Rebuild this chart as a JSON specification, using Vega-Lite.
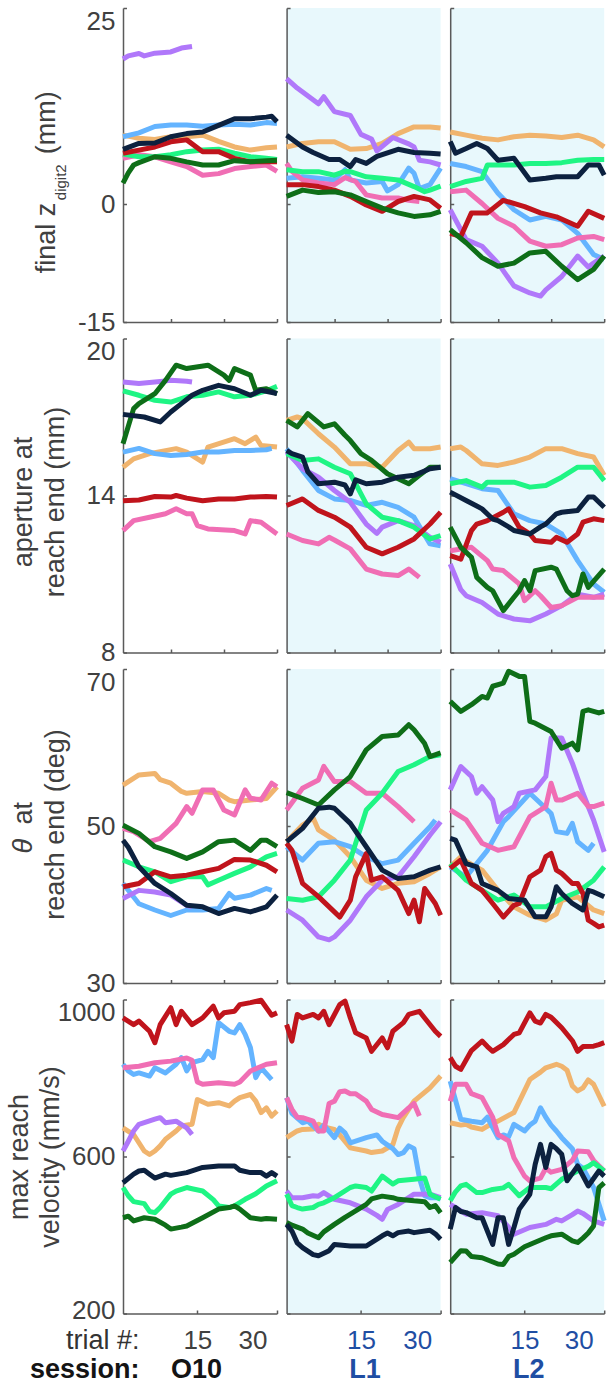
{
"$schema": "https://vega.github.io/schema/vega-lite/v6.json",
"autosize": {"type": "pad"},
"padding": {"left": 5, "top": 7, "right": 0, "bottom": 0},
"background": "white",
"config": {
 "view": {"stroke": null},
 "axis": {"grid": false, "domainColor": "#5a5a5a", "domainWidth": 1.5, "tickColor": "#5a5a5a", "tickWidth": 1.5, "tickSize": -3.5, "labelFont": "Liberation Sans", "labelFontSize": 26, "labelColor": "#404040", "titleFont": "Liberation Sans", "titleFontSize": 27, "titleFontWeight": "normal", "titleColor": "#404040"},
 "line": {"strokeWidth": 5, "strokeJoin": "round"}
},
"datasets": {
"z_O10": [
{"c":"o","t":1,"y":8.8},{"c":"o","t":4,"y":8.4},{"c":"o","t":7,"y":8.25},{"c":"o","t":10,"y":8.6},{"c":"o","t":13,"y":8.6},{"c":"o","t":16,"y":8.8},{"c":"o","t":19,"y":8.0},{"c":"o","t":22,"y":7.3},{"c":"o","t":25,"y":6.9},{"c":"o","t":28,"y":7.2},{"c":"o","t":30,"y":7.3},
{"c":"b","t":1,"y":8.6},{"c":"b","t":4,"y":9.1},{"c":"b","t":7,"y":9.9},{"c":"b","t":10,"y":10.1},{"c":"b","t":13,"y":10.1},{"c":"b","t":16,"y":9.95},{"c":"b","t":19,"y":10.1},{"c":"b","t":22,"y":10.2},{"c":"b","t":25,"y":10.1},{"c":"b","t":28,"y":10.4},{"c":"b","t":30,"y":10.3},
{"c":"u","t":1,"y":18.5},{"c":"u","t":2,"y":18.9},{"c":"u","t":4,"y":19.2},{"c":"u","t":5,"y":18.9},{"c":"u","t":7,"y":19.25},{"c":"u","t":10,"y":19.4},{"c":"u","t":12,"y":19.9},{"c":"u","t":13,"y":20.0},{"c":"u","t":14,"y":20.1},
{"c":"k","t":1,"y":5.85},{"c":"k","t":4,"y":6.3},{"c":"k","t":7,"y":6.05},{"c":"k","t":10,"y":5.4},{"c":"k","t":13,"y":4.8},{"c":"k","t":16,"y":3.7},{"c":"k","t":19,"y":3.9},{"c":"k","t":22,"y":4.55},{"c":"k","t":25,"y":4.8},{"c":"k","t":28,"y":5.0},{"c":"k","t":30,"y":4.2},
{"c":"g","t":1,"y":6.4},{"c":"g","t":4,"y":6.05},{"c":"g","t":7,"y":6.05},{"c":"g","t":10,"y":6.3},{"c":"g","t":13,"y":6.7},{"c":"g","t":16,"y":6.9},{"c":"g","t":19,"y":7.0},{"c":"g","t":22,"y":6.5},{"c":"g","t":25,"y":6.05},{"c":"g","t":28,"y":5.85},{"c":"g","t":30,"y":5.7},
{"c":"r","t":1,"y":6.5},{"c":"r","t":4,"y":6.9},{"c":"r","t":7,"y":7.3},{"c":"r","t":10,"y":7.95},{"c":"r","t":13,"y":8.2},{"c":"r","t":16,"y":6.7},{"c":"r","t":19,"y":6.7},{"c":"r","t":22,"y":5.85},{"c":"r","t":25,"y":5.4},{"c":"r","t":28,"y":5.4},{"c":"r","t":30,"y":5.4},
{"c":"d","t":1,"y":2.7},{"c":"d","t":2,"y":4.0},{"c":"d","t":3,"y":5.0},{"c":"d","t":4,"y":5.3},{"c":"d","t":7,"y":6.05},{"c":"d","t":10,"y":5.85},{"c":"d","t":13,"y":5.4},{"c":"d","t":16,"y":5.0},{"c":"d","t":19,"y":5.0},{"c":"d","t":22,"y":5.55},{"c":"d","t":25,"y":5.4},{"c":"d","t":28,"y":5.55},{"c":"d","t":30,"y":5.6},
{"c":"n","t":1,"y":7.0},{"c":"n","t":4,"y":7.75},{"c":"n","t":7,"y":7.8},{"c":"n","t":10,"y":8.6},{"c":"n","t":13,"y":9.0},{"c":"n","t":16,"y":9.2},{"c":"n","t":19,"y":10.05},{"c":"n","t":22,"y":10.9},{"c":"n","t":25,"y":10.9},{"c":"n","t":28,"y":11.1},{"c":"n","t":29,"y":11.2},{"c":"n","t":30,"y":10.5}
],
"z_L1": [
{"c":"o","t":1,"y":7.3},{"c":"o","t":4,"y":7.75},{"c":"o","t":7,"y":7.95},{"c":"o","t":10,"y":7.95},{"c":"o","t":13,"y":7.0},{"c":"o","t":16,"y":7.1},{"c":"o","t":19,"y":7.75},{"c":"o","t":22,"y":9.0},{"c":"o","t":25,"y":9.85},{"c":"o","t":28,"y":9.85},{"c":"o","t":30,"y":9.7},
{"c":"b","t":1,"y":3.3},{"c":"b","t":4,"y":3.5},{"c":"b","t":7,"y":3.3},{"c":"b","t":10,"y":3.1},{"c":"b","t":12,"y":4.4},{"c":"b","t":13,"y":3.1},{"c":"b","t":16,"y":2.7},{"c":"b","t":19,"y":2.9},{"c":"b","t":20,"y":1.7},{"c":"b","t":22,"y":2.5},{"c":"b","t":24,"y":4.6},{"c":"b","t":25,"y":3.95},{"c":"b","t":26,"y":2.0},{"c":"b","t":28,"y":2.5},{"c":"b","t":30,"y":4.6},
{"c":"u","t":1,"y":16.0},{"c":"u","t":3,"y":14.8},{"c":"u","t":7,"y":12.8},{"c":"u","t":8,"y":13.7},{"c":"u","t":10,"y":11.8},{"c":"u","t":13,"y":11.3},{"c":"u","t":15,"y":8.9},{"c":"u","t":17,"y":8.3},{"c":"u","t":18,"y":6.8},{"c":"u","t":21,"y":8.5},{"c":"u","t":24,"y":7.7},{"c":"u","t":25,"y":7.3},{"c":"u","t":26,"y":5.6},{"c":"u","t":28,"y":5.4},{"c":"u","t":30,"y":5.0},
{"c":"k","t":1,"y":5.2},{"c":"k","t":2,"y":4.2},{"c":"k","t":4,"y":3.1},{"c":"k","t":7,"y":2.7},{"c":"k","t":10,"y":2.5},{"c":"k","t":12,"y":3.4},{"c":"k","t":14,"y":2.9},{"c":"k","t":16,"y":1.2},{"c":"k","t":19,"y":0.8},{"c":"k","t":22,"y":0.8},{"c":"k","t":24,"y":0.5},{"c":"k","t":26,"y":0.35},
{"c":"g","t":1,"y":4.4},{"c":"g","t":4,"y":4.15},{"c":"g","t":7,"y":4.15},{"c":"g","t":10,"y":3.7},{"c":"g","t":12,"y":4.2},{"c":"g","t":13,"y":4.15},{"c":"g","t":16,"y":3.5},{"c":"g","t":19,"y":3.3},{"c":"g","t":22,"y":3.1},{"c":"g","t":25,"y":2.25},{"c":"g","t":27,"y":1.6},{"c":"g","t":28,"y":1.8},{"c":"g","t":30,"y":2.3},
{"c":"r","t":1,"y":2.5},{"c":"r","t":4,"y":2.5},{"c":"r","t":7,"y":2.25},{"c":"r","t":10,"y":1.8},{"c":"r","t":13,"y":1.0},{"c":"r","t":16,"y":-0.1},{"c":"r","t":19,"y":-0.9},{"c":"r","t":22,"y":0.35},{"c":"r","t":25,"y":1.0},{"c":"r","t":28,"y":0.55},{"c":"r","t":30,"y":-0.5},
{"c":"d","t":1,"y":1.0},{"c":"d","t":4,"y":1.8},{"c":"d","t":7,"y":1.5},{"c":"d","t":10,"y":1.6},{"c":"d","t":13,"y":1.2},{"c":"d","t":16,"y":0.35},{"c":"d","t":19,"y":-0.5},{"c":"d","t":22,"y":-1.1},{"c":"d","t":25,"y":-1.55},{"c":"d","t":28,"y":-1.35},{"c":"d","t":30,"y":-0.9},
{"c":"n","t":1,"y":8.8},{"c":"n","t":4,"y":7.3},{"c":"n","t":6,"y":6.6},{"c":"n","t":9,"y":5.7},{"c":"n","t":11,"y":5.7},{"c":"n","t":13,"y":4.8},{"c":"n","t":14,"y":5.7},{"c":"n","t":16,"y":5.2},{"c":"n","t":18,"y":6.1},{"c":"n","t":22,"y":7.0},{"c":"n","t":25,"y":6.6},{"c":"n","t":28,"y":6.5},{"c":"n","t":30,"y":6.4}
],
"z_L2": [
{"c":"o","t":1,"y":9.2},{"c":"o","t":4,"y":8.8},{"c":"o","t":7,"y":8.4},{"c":"o","t":10,"y":8.2},{"c":"o","t":13,"y":8.6},{"c":"o","t":16,"y":8.8},{"c":"o","t":19,"y":8.7},{"c":"o","t":22,"y":8.5},{"c":"o","t":25,"y":8.8},{"c":"o","t":28,"y":8.2},{"c":"o","t":30,"y":7.3},
{"c":"b","t":1,"y":5.2},{"c":"b","t":4,"y":4.8},{"c":"b","t":7,"y":4.15},{"c":"b","t":10,"y":1.4},{"c":"b","t":13,"y":-0.7},{"c":"b","t":16,"y":-2.0},{"c":"b","t":19,"y":-1.55},{"c":"b","t":22,"y":-2.0},{"c":"b","t":25,"y":-3.7},{"c":"b","t":28,"y":-6.4},{"c":"b","t":30,"y":-7.05},
{"c":"u","t":1,"y":-0.7},{"c":"u","t":4,"y":-4.5},{"c":"u","t":7,"y":-5.35},{"c":"u","t":10,"y":-7.5},{"c":"u","t":13,"y":-10.4},{"c":"u","t":16,"y":-11.3},{"c":"u","t":18,"y":-11.7},{"c":"u","t":19,"y":-10.9},{"c":"u","t":22,"y":-9.2},{"c":"u","t":25,"y":-6.6},{"c":"u","t":27,"y":-8.0},{"c":"u","t":28,"y":-7.5},{"c":"u","t":30,"y":-6.6},
{"c":"k","t":1,"y":1.6},{"c":"k","t":4,"y":1.8},{"c":"k","t":7,"y":0.1},{"c":"k","t":10,"y":-1.8},{"c":"k","t":13,"y":-2.8},{"c":"k","t":16,"y":-4.7},{"c":"k","t":19,"y":-5.35},{"c":"k","t":22,"y":-5.15},{"c":"k","t":25,"y":-4.3},{"c":"k","t":28,"y":-4.1},{"c":"k","t":30,"y":-4.5},
{"c":"g","t":1,"y":2.25},{"c":"g","t":4,"y":2.9},{"c":"g","t":7,"y":3.3},{"c":"g","t":8,"y":5.0},{"c":"g","t":10,"y":5.0},{"c":"g","t":13,"y":5.0},{"c":"g","t":16,"y":5.2},{"c":"g","t":19,"y":5.2},{"c":"g","t":22,"y":5.3},{"c":"g","t":25,"y":5.6},{"c":"g","t":28,"y":5.7},{"c":"g","t":30,"y":5.7},
{"c":"r","t":1,"y":-3.7},{"c":"r","t":3,"y":-4.1},{"c":"r","t":5,"y":-1.1},{"c":"r","t":8,"y":-1.1},{"c":"r","t":11,"y":0.5},{"c":"r","t":15,"y":-0.3},{"c":"r","t":18,"y":-1.1},{"c":"r","t":21,"y":-1.6},{"c":"r","t":25,"y":-2.8},{"c":"r","t":27,"y":-0.9},{"c":"r","t":30,"y":-1.8},
{"c":"d","t":1,"y":-3.25},{"c":"d","t":4,"y":-4.9},{"c":"d","t":7,"y":-6.8},{"c":"d","t":10,"y":-7.9},{"c":"d","t":13,"y":-7.5},{"c":"d","t":16,"y":-6.2},{"c":"d","t":19,"y":-6.0},{"c":"d","t":22,"y":-7.9},{"c":"d","t":25,"y":-9.6},{"c":"d","t":28,"y":-8.3},{"c":"d","t":30,"y":-6.6},
{"c":"n","t":1,"y":8.0},{"c":"n","t":2,"y":6.5},{"c":"n","t":4,"y":7.1},{"c":"n","t":6,"y":7.75},{"c":"n","t":8,"y":7.1},{"c":"n","t":10,"y":5.6},{"c":"n","t":13,"y":5.85},{"c":"n","t":16,"y":3.1},{"c":"n","t":19,"y":3.3},{"c":"n","t":21,"y":3.5},{"c":"n","t":25,"y":3.5},{"c":"n","t":27,"y":5.0},{"c":"n","t":29,"y":5.0},{"c":"n","t":30,"y":3.7}
],
"ap_O10": [
{"c":"o","t":1,"y":15.08},{"c":"o","t":3,"y":15.4},{"c":"o","t":6,"y":15.6},{"c":"o","t":11,"y":15.79},{"c":"o","t":13,"y":15.66},{"c":"o","t":16,"y":15.28},{"c":"o","t":17,"y":15.85},{"c":"o","t":22,"y":16.17},{"c":"o","t":24,"y":15.98},{"c":"o","t":26,"y":16.23},{"c":"o","t":27,"y":15.91},{"c":"o","t":30,"y":15.85},
{"c":"b","t":1,"y":15.66},{"c":"b","t":4,"y":15.8},{"c":"b","t":7,"y":15.6},{"c":"b","t":10,"y":15.53},{"c":"b","t":13,"y":15.57},{"c":"b","t":16,"y":15.66},{"c":"b","t":19,"y":15.66},{"c":"b","t":22,"y":15.72},{"c":"b","t":25,"y":15.72},{"c":"b","t":28,"y":15.75},{"c":"b","t":29,"y":15.8},
{"c":"u","t":1,"y":18.34},{"c":"u","t":4,"y":18.28},{"c":"u","t":7,"y":18.34},{"c":"u","t":10,"y":18.4},{"c":"u","t":13,"y":18.37},{"c":"u","t":14,"y":18.34},
{"c":"k","t":1,"y":12.66},{"c":"k","t":3,"y":13.04},{"c":"k","t":6,"y":13.17},{"c":"k","t":9,"y":13.3},{"c":"k","t":11,"y":13.49},{"c":"k","t":13,"y":13.3},{"c":"k","t":14,"y":13.3},{"c":"k","t":15,"y":12.85},{"c":"k","t":17,"y":12.72},{"c":"k","t":22,"y":12.66},{"c":"k","t":24,"y":12.53},{"c":"k","t":25,"y":13.04},{"c":"k","t":27,"y":12.98},{"c":"k","t":30,"y":12.53},
{"c":"g","t":1,"y":18.0},{"c":"g","t":4,"y":17.83},{"c":"g","t":7,"y":17.64},{"c":"g","t":10,"y":17.57},{"c":"g","t":13,"y":17.77},{"c":"g","t":16,"y":17.83},{"c":"g","t":19,"y":17.96},{"c":"g","t":22,"y":17.77},{"c":"g","t":25,"y":17.83},{"c":"g","t":28,"y":18.0},{"c":"g","t":30,"y":18.17},
{"c":"r","t":1,"y":13.8},{"c":"r","t":4,"y":13.83},{"c":"r","t":7,"y":13.96},{"c":"r","t":10,"y":13.94},{"c":"r","t":11,"y":14.0},{"c":"r","t":13,"y":13.9},{"c":"r","t":16,"y":13.8},{"c":"r","t":19,"y":13.87},{"c":"r","t":22,"y":13.87},{"c":"r","t":25,"y":13.94},{"c":"r","t":28,"y":13.96},{"c":"r","t":30,"y":13.94},
{"c":"d","t":1,"y":15.98},{"c":"d","t":3,"y":17.32},{"c":"d","t":4,"y":17.51},{"c":"d","t":7,"y":17.89},{"c":"d","t":9,"y":18.4},{"c":"d","t":11,"y":18.98},{"c":"d","t":13,"y":18.85},{"c":"d","t":17,"y":18.98},{"c":"d","t":20,"y":18.6},{"c":"d","t":21,"y":18.4},{"c":"d","t":22,"y":18.85},{"c":"d","t":25,"y":18.6},{"c":"d","t":26,"y":18.02},{"c":"d","t":28,"y":18.08},{"c":"d","t":30,"y":17.89},
{"c":"n","t":1,"y":17.1},{"c":"n","t":5,"y":17.0},{"c":"n","t":8,"y":16.81},{"c":"n","t":10,"y":17.19},{"c":"n","t":12,"y":17.51},{"c":"n","t":14,"y":17.83},{"c":"n","t":16,"y":18.02},{"c":"n","t":19,"y":18.21},{"c":"n","t":22,"y":18.08},{"c":"n","t":25,"y":17.83},{"c":"n","t":27,"y":18.02},{"c":"n","t":30,"y":17.9}
],
"ap_L1": [
{"c":"o","t":1,"y":16.87},{"c":"o","t":3,"y":17.0},{"c":"o","t":4,"y":16.94},{"c":"o","t":7,"y":16.36},{"c":"o","t":10,"y":15.85},{"c":"o","t":13,"y":15.21},{"c":"o","t":16,"y":15.21},{"c":"o","t":19,"y":15.08},{"c":"o","t":22,"y":15.72},{"c":"o","t":24,"y":16.04},{"c":"o","t":25,"y":15.79},{"c":"o","t":28,"y":15.79},{"c":"o","t":30,"y":15.85},
{"c":"b","t":1,"y":15.79},{"c":"b","t":4,"y":14.96},{"c":"b","t":7,"y":14.19},{"c":"b","t":10,"y":13.87},{"c":"b","t":13,"y":13.81},{"c":"b","t":16,"y":13.62},{"c":"b","t":19,"y":13.74},{"c":"b","t":22,"y":13.55},{"c":"b","t":25,"y":13.17},{"c":"b","t":28,"y":12.15},{"c":"b","t":30,"y":12.08},
{"c":"u","t":1,"y":15.66},{"c":"u","t":4,"y":15.02},{"c":"u","t":7,"y":14.7},{"c":"u","t":10,"y":14.19},{"c":"u","t":13,"y":13.74},{"c":"u","t":16,"y":12.91},{"c":"u","t":18,"y":12.55},{"c":"u","t":19,"y":12.79},{"c":"u","t":22,"y":13.04},{"c":"u","t":25,"y":12.85},{"c":"u","t":28,"y":12.4},{"c":"u","t":30,"y":12.21},
{"c":"k","t":1,"y":12.53},{"c":"k","t":4,"y":12.28},{"c":"k","t":7,"y":12.15},{"c":"k","t":9,"y":12.4},{"c":"k","t":10,"y":12.3},{"c":"k","t":13,"y":11.96},{"c":"k","t":16,"y":11.19},{"c":"k","t":19,"y":11.0},{"c":"k","t":22,"y":10.94},{"c":"k","t":24,"y":11.19},{"c":"k","t":26,"y":10.87},
{"c":"g","t":1,"y":15.6},{"c":"g","t":4,"y":15.34},{"c":"g","t":7,"y":15.4},{"c":"g","t":10,"y":15.08},{"c":"g","t":13,"y":14.83},{"c":"g","t":16,"y":13.68},{"c":"g","t":19,"y":13.17},{"c":"g","t":22,"y":13.04},{"c":"g","t":25,"y":12.79},{"c":"g","t":28,"y":12.34},{"c":"g","t":30,"y":12.47},
{"c":"r","t":1,"y":13.62},{"c":"r","t":4,"y":13.87},{"c":"r","t":7,"y":13.43},{"c":"r","t":10,"y":13.17},{"c":"r","t":13,"y":12.79},{"c":"r","t":16,"y":12.02},{"c":"r","t":19,"y":11.77},{"c":"r","t":22,"y":12.02},{"c":"r","t":25,"y":12.34},{"c":"r","t":28,"y":12.91},{"c":"r","t":30,"y":13.36},
{"c":"d","t":1,"y":16.87},{"c":"d","t":3,"y":16.62},{"c":"d","t":5,"y":17.13},{"c":"d","t":8,"y":16.62},{"c":"d","t":10,"y":16.74},{"c":"d","t":12,"y":16.3},{"c":"d","t":13,"y":16.1},{"c":"d","t":15,"y":15.6},{"c":"d","t":17,"y":15.34},{"c":"d","t":20,"y":14.83},{"c":"d","t":22,"y":14.64},{"c":"d","t":24,"y":14.45},{"c":"d","t":26,"y":14.77},{"c":"d","t":28,"y":15.08},{"c":"d","t":30,"y":15.08},
{"c":"n","t":1,"y":15.72},{"c":"n","t":2,"y":15.6},{"c":"n","t":4,"y":15.47},{"c":"n","t":5,"y":14.9},{"c":"n","t":7,"y":14.45},{"c":"n","t":10,"y":14.51},{"c":"n","t":12,"y":14.4},{"c":"n","t":13,"y":14.06},{"c":"n","t":14,"y":14.6},{"c":"n","t":16,"y":14.45},{"c":"n","t":19,"y":14.51},{"c":"n","t":22,"y":14.7},{"c":"n","t":25,"y":14.77},{"c":"n","t":28,"y":15.02},{"c":"n","t":30,"y":15.08}
],
"ap_L2": [
{"c":"o","t":1,"y":15.79},{"c":"o","t":3,"y":15.85},{"c":"o","t":4,"y":15.72},{"c":"o","t":7,"y":15.21},{"c":"o","t":10,"y":15.15},{"c":"o","t":13,"y":15.28},{"c":"o","t":16,"y":15.47},{"c":"o","t":19,"y":15.79},{"c":"o","t":22,"y":15.79},{"c":"o","t":25,"y":15.6},{"c":"o","t":28,"y":15.47},{"c":"o","t":30,"y":14.77},
{"c":"b","t":1,"y":14.64},{"c":"b","t":4,"y":14.45},{"c":"b","t":7,"y":14.26},{"c":"b","t":10,"y":14.19},{"c":"b","t":13,"y":13.3},{"c":"b","t":16,"y":13.04},{"c":"b","t":19,"y":12.91},{"c":"b","t":22,"y":12.53},{"c":"b","t":25,"y":11.51},{"c":"b","t":28,"y":10.62},{"c":"b","t":30,"y":10.3},
{"c":"u","t":1,"y":11.38},{"c":"u","t":3,"y":10.4},{"c":"u","t":4,"y":10.17},{"c":"u","t":7,"y":9.91},{"c":"u","t":10,"y":9.47},{"c":"u","t":13,"y":9.28},{"c":"u","t":16,"y":9.21},{"c":"u","t":19,"y":9.47},{"c":"u","t":22,"y":9.79},{"c":"u","t":25,"y":10.23},{"c":"u","t":28,"y":10.11},{"c":"u","t":30,"y":10.23},
{"c":"k","t":1,"y":11.89},{"c":"k","t":5,"y":12.02},{"c":"k","t":8,"y":11.51},{"c":"k","t":9,"y":11.19},{"c":"k","t":11,"y":11.13},{"c":"k","t":14,"y":10.62},{"c":"k","t":15,"y":9.98},{"c":"k","t":17,"y":10.36},{"c":"k","t":18,"y":10.17},{"c":"k","t":20,"y":9.72},{"c":"k","t":22,"y":9.79},{"c":"k","t":25,"y":10.11},{"c":"k","t":27,"y":10.11},{"c":"k","t":30,"y":10.11},
{"c":"g","t":1,"y":14.45},{"c":"g","t":4,"y":14.57},{"c":"g","t":7,"y":14.32},{"c":"g","t":8,"y":14.51},{"c":"g","t":10,"y":14.51},{"c":"g","t":13,"y":14.51},{"c":"g","t":16,"y":14.32},{"c":"g","t":19,"y":14.38},{"c":"g","t":22,"y":14.7},{"c":"g","t":25,"y":15.08},{"c":"g","t":28,"y":15.08},{"c":"g","t":30,"y":14.57},
{"c":"r","t":1,"y":11.7},{"c":"r","t":3,"y":11.57},{"c":"r","t":5,"y":12.66},{"c":"r","t":6,"y":12.91},{"c":"r","t":8,"y":13.04},{"c":"r","t":11,"y":13.36},{"c":"r","t":12,"y":13.49},{"c":"r","t":14,"y":12.79},{"c":"r","t":16,"y":12.53},{"c":"r","t":17,"y":12.28},{"c":"r","t":20,"y":12.21},{"c":"r","t":21,"y":12.4},{"c":"r","t":23,"y":12.21},{"c":"r","t":25,"y":12.53},{"c":"r","t":26,"y":12.98},{"c":"r","t":28,"y":13.11},{"c":"r","t":30,"y":13.04},
{"c":"d","t":1,"y":12.79},{"c":"d","t":3,"y":12.02},{"c":"d","t":5,"y":11.64},{"c":"d","t":6,"y":10.87},{"c":"d","t":8,"y":10.49},{"c":"d","t":9,"y":10.36},{"c":"d","t":11,"y":9.6},{"c":"d","t":13,"y":10.11},{"c":"d","t":14,"y":10.36},{"c":"d","t":15,"y":10.75},{"c":"d","t":16,"y":10.36},{"c":"d","t":17,"y":11.13},{"c":"d","t":20,"y":11.26},{"c":"d","t":21,"y":11.19},{"c":"d","t":23,"y":10.36},{"c":"d","t":24,"y":10.17},{"c":"d","t":25,"y":10.23},{"c":"d","t":26,"y":11.0},{"c":"d","t":27,"y":10.49},{"c":"d","t":30,"y":11.19},
{"c":"n","t":1,"y":14.13},{"c":"n","t":4,"y":13.81},{"c":"n","t":6,"y":13.6},{"c":"n","t":7,"y":13.49},{"c":"n","t":9,"y":13.1},{"c":"n","t":10,"y":13.04},{"c":"n","t":12,"y":12.8},{"c":"n","t":13,"y":12.66},{"c":"n","t":16,"y":12.53},{"c":"n","t":18,"y":12.8},{"c":"n","t":19,"y":12.91},{"c":"n","t":21,"y":13.3},{"c":"n","t":22,"y":13.36},{"c":"n","t":25,"y":13.43},{"c":"n","t":27,"y":13.94},{"c":"n","t":28,"y":13.94},{"c":"n","t":30,"y":13.55}
],
"th_O10": [
{"c":"o","t":1,"y":55.2},{"c":"o","t":4,"y":56.5},{"c":"o","t":7,"y":56.7},{"c":"o","t":8,"y":55.9},{"c":"o","t":10,"y":55.45},{"c":"o","t":12,"y":54.4},{"c":"o","t":13,"y":54.17},{"c":"o","t":16,"y":54.4},{"c":"o","t":19,"y":54.17},{"c":"o","t":21,"y":53.3},{"c":"o","t":22,"y":53.1},{"c":"o","t":25,"y":53.3},{"c":"o","t":28,"y":53.5},{"c":"o","t":30,"y":55.0},
{"c":"b","t":1,"y":42.68},{"c":"b","t":4,"y":40.1},{"c":"b","t":7,"y":39.3},{"c":"b","t":10,"y":38.6},{"c":"b","t":13,"y":39.3},{"c":"b","t":16,"y":39.3},{"c":"b","t":19,"y":39.5},{"c":"b","t":21,"y":41.4},{"c":"b","t":22,"y":40.8},{"c":"b","t":25,"y":41.2},{"c":"b","t":28,"y":42.04},{"c":"b","t":29,"y":41.8},
{"c":"u","t":1,"y":40.77},{"c":"u","t":4,"y":41.8},{"c":"u","t":7,"y":41.6},{"c":"u","t":10,"y":41.2},{"c":"u","t":13,"y":39.9},{"c":"u","t":14,"y":39.7},
{"c":"k","t":1,"y":49.7},{"c":"k","t":3,"y":49.28},{"c":"k","t":6,"y":48.0},{"c":"k","t":8,"y":48.43},{"c":"k","t":11,"y":50.34},{"c":"k","t":13,"y":52.47},{"c":"k","t":14,"y":51.62},{"c":"k","t":16,"y":54.6},{"c":"k","t":18,"y":54.6},{"c":"k","t":20,"y":52.04},{"c":"k","t":22,"y":51.4},{"c":"k","t":24,"y":54.6},{"c":"k","t":25,"y":53.53},{"c":"k","t":27,"y":53.32},{"c":"k","t":29,"y":55.45},{"c":"k","t":30,"y":55.0},
{"c":"g","t":1,"y":45.66},{"c":"g","t":4,"y":44.8},{"c":"g","t":7,"y":44.17},{"c":"g","t":10,"y":42.9},{"c":"g","t":13,"y":43.53},{"c":"g","t":16,"y":43.53},{"c":"g","t":17,"y":42.5},{"c":"g","t":19,"y":43.1},{"c":"g","t":22,"y":43.96},{"c":"g","t":25,"y":44.8},{"c":"g","t":28,"y":46.08},{"c":"g","t":30,"y":46.5},
{"c":"r","t":1,"y":42.26},{"c":"r","t":4,"y":42.68},{"c":"r","t":7,"y":44.17},{"c":"r","t":10,"y":43.53},{"c":"r","t":13,"y":43.74},{"c":"r","t":16,"y":44.17},{"c":"r","t":19,"y":44.6},{"c":"r","t":22,"y":45.74},{"c":"r","t":25,"y":45.66},{"c":"r","t":28,"y":45.0},{"c":"r","t":30,"y":44.17},
{"c":"d","t":1,"y":50.1},{"c":"d","t":4,"y":49.06},{"c":"d","t":7,"y":47.36},{"c":"d","t":10,"y":46.7},{"c":"d","t":13,"y":45.87},{"c":"d","t":16,"y":46.7},{"c":"d","t":19,"y":48.0},{"c":"d","t":22,"y":48.2},{"c":"d","t":25,"y":46.9},{"c":"d","t":27,"y":48.2},{"c":"d","t":28,"y":48.2},{"c":"d","t":30,"y":47.36},
{"c":"n","t":1,"y":48.2},{"c":"n","t":2,"y":47.3},{"c":"n","t":4,"y":44.8},{"c":"n","t":7,"y":42.68},{"c":"n","t":10,"y":41.4},{"c":"n","t":13,"y":39.9},{"c":"n","t":16,"y":39.7},{"c":"n","t":19,"y":38.85},{"c":"n","t":22,"y":39.5},{"c":"n","t":25,"y":39.06},{"c":"n","t":28,"y":39.7},{"c":"n","t":30,"y":41.2}
],
"th_L1": [
{"c":"o","t":1,"y":48.0},{"c":"o","t":4,"y":50.13},{"c":"o","t":6,"y":51.0},{"c":"o","t":7,"y":49.5},{"c":"o","t":10,"y":48.2},{"c":"o","t":13,"y":46.08},{"c":"o","t":16,"y":43.1},{"c":"o","t":19,"y":42.04},{"c":"o","t":22,"y":42.7},{"c":"o","t":25,"y":42.9},{"c":"o","t":28,"y":43.96},{"c":"o","t":30,"y":44.8},
{"c":"b","t":1,"y":47.36},{"c":"b","t":4,"y":45.66},{"c":"b","t":7,"y":47.8},{"c":"b","t":10,"y":48.0},{"c":"b","t":13,"y":47.36},{"c":"b","t":16,"y":46.08},{"c":"b","t":19,"y":45.2},{"c":"b","t":22,"y":45.66},{"c":"b","t":25,"y":47.8},{"c":"b","t":28,"y":49.9},{"c":"b","t":29,"y":50.77},
{"c":"u","t":1,"y":39.3},{"c":"u","t":4,"y":38.0},{"c":"u","t":7,"y":35.87},{"c":"u","t":9,"y":35.5},{"c":"u","t":10,"y":35.87},{"c":"u","t":13,"y":38.0},{"c":"u","t":16,"y":40.98},{"c":"u","t":19,"y":43.1},{"c":"u","t":22,"y":43.53},{"c":"u","t":25,"y":46.08},{"c":"u","t":28,"y":48.85},{"c":"u","t":30,"y":50.55},
{"c":"k","t":1,"y":52.04},{"c":"k","t":4,"y":54.8},{"c":"k","t":7,"y":55.87},{"c":"k","t":8,"y":57.6},{"c":"k","t":10,"y":55.66},{"c":"k","t":13,"y":55.66},{"c":"k","t":16,"y":54.17},{"c":"k","t":19,"y":54.17},{"c":"k","t":22,"y":52.47},{"c":"k","t":24,"y":51.2},{"c":"k","t":25,"y":50.55},
{"c":"g","t":1,"y":40.77},{"c":"g","t":4,"y":40.55},{"c":"g","t":7,"y":40.98},{"c":"g","t":10,"y":43.1},{"c":"g","t":13,"y":45.66},{"c":"g","t":16,"y":52.04},{"c":"g","t":19,"y":54.17},{"c":"g","t":22,"y":56.94},{"c":"g","t":25,"y":57.8},{"c":"g","t":28,"y":58.85},{"c":"g","t":30,"y":59.06},
{"c":"r","t":1,"y":47.8},{"c":"r","t":2,"y":46.9},{"c":"r","t":4,"y":42.7},{"c":"r","t":7,"y":41.0},{"c":"r","t":10,"y":39.06},{"c":"r","t":11,"y":38.4},{"c":"r","t":13,"y":40.55},{"c":"r","t":14,"y":43.53},{"c":"r","t":16,"y":46.5},{"c":"r","t":17,"y":43.1},{"c":"r","t":19,"y":43.53},{"c":"r","t":22,"y":41.8},{"c":"r","t":24,"y":38.85},{"c":"r","t":25,"y":40.55},{"c":"r","t":26,"y":37.8},{"c":"r","t":27,"y":42.04},{"c":"r","t":29,"y":40.13},{"c":"r","t":30,"y":38.64},
{"c":"d","t":1,"y":54.26},{"c":"d","t":4,"y":53.5},{"c":"d","t":7,"y":52.68},{"c":"d","t":10,"y":54.6},{"c":"d","t":13,"y":56.3},{"c":"d","t":16,"y":59.7},{"c":"d","t":19,"y":61.4},{"c":"d","t":22,"y":61.6},{"c":"d","t":24,"y":62.9},{"c":"d","t":25,"y":62.26},{"c":"d","t":27,"y":60.5},{"c":"d","t":28,"y":58.85},{"c":"d","t":30,"y":59.3},
{"c":"n","t":1,"y":48.0},{"c":"n","t":4,"y":49.7},{"c":"n","t":7,"y":52.26},{"c":"n","t":9,"y":52.4},{"c":"n","t":10,"y":52.26},{"c":"n","t":13,"y":50.34},{"c":"n","t":16,"y":47.36},{"c":"n","t":19,"y":44.38},{"c":"n","t":22,"y":43.3},{"c":"n","t":25,"y":43.53},{"c":"n","t":28,"y":44.38},{"c":"n","t":30,"y":44.8}
],
"th_L2": [
{"c":"o","t":1,"y":44.8},{"c":"o","t":3,"y":46.08},{"c":"o","t":4,"y":45.5},{"c":"o","t":7,"y":44.38},{"c":"o","t":10,"y":41.8},{"c":"o","t":13,"y":39.7},{"c":"o","t":16,"y":38.64},{"c":"o","t":19,"y":38.0},{"c":"o","t":21,"y":38.8},{"c":"o","t":22,"y":40.55},{"c":"o","t":25,"y":40.98},{"c":"o","t":28,"y":39.3},{"c":"o","t":30,"y":38.85},
{"c":"b","t":1,"y":44.8},{"c":"b","t":4,"y":43.53},{"c":"b","t":6,"y":45.2},{"c":"b","t":8,"y":46.9},{"c":"b","t":11,"y":50.55},{"c":"b","t":12,"y":51.2},{"c":"b","t":16,"y":54.17},{"c":"b","t":18,"y":52.9},{"c":"b","t":20,"y":51.6},{"c":"b","t":21,"y":49.28},{"c":"b","t":23,"y":49.06},{"c":"b","t":24,"y":50.34},{"c":"b","t":25,"y":48.0},{"c":"b","t":27,"y":46.9},{"c":"b","t":28,"y":47.8},
{"c":"u","t":1,"y":54.6},{"c":"u","t":3,"y":57.57},{"c":"u","t":5,"y":56.3},{"c":"u","t":6,"y":54.17},{"c":"u","t":7,"y":55.0},{"c":"u","t":9,"y":53.32},{"c":"u","t":10,"y":50.55},{"c":"u","t":11,"y":51.6},{"c":"u","t":13,"y":52.47},{"c":"u","t":14,"y":54.17},{"c":"u","t":17,"y":54.6},{"c":"u","t":19,"y":56.3},{"c":"u","t":20,"y":61.2},{"c":"u","t":22,"y":61.2},{"c":"u","t":24,"y":58.0},{"c":"u","t":26,"y":54.17},{"c":"u","t":28,"y":50.77},{"c":"u","t":30,"y":46.7},
{"c":"k","t":1,"y":52.04},{"c":"k","t":4,"y":50.77},{"c":"k","t":7,"y":47.8},{"c":"k","t":10,"y":46.9},{"c":"k","t":13,"y":47.36},{"c":"k","t":16,"y":51.2},{"c":"k","t":19,"y":52.47},{"c":"k","t":20,"y":55.45},{"c":"k","t":21,"y":53.3},{"c":"k","t":22,"y":53.3},{"c":"k","t":25,"y":54.17},{"c":"k","t":27,"y":52.5},{"c":"k","t":28,"y":52.47},{"c":"k","t":30,"y":52.9},
{"c":"g","t":1,"y":45.2},{"c":"g","t":4,"y":43.1},{"c":"g","t":7,"y":41.8},{"c":"g","t":10,"y":40.55},{"c":"g","t":13,"y":41.2},{"c":"g","t":16,"y":39.7},{"c":"g","t":19,"y":39.7},{"c":"g","t":22,"y":40.77},{"c":"g","t":25,"y":41.6},{"c":"g","t":28,"y":43.1},{"c":"g","t":30,"y":44.8},
{"c":"r","t":1,"y":44.6},{"c":"r","t":3,"y":45.66},{"c":"r","t":5,"y":42.68},{"c":"r","t":7,"y":41.8},{"c":"r","t":9,"y":40.13},{"c":"r","t":11,"y":38.4},{"c":"r","t":13,"y":39.9},{"c":"r","t":14,"y":40.13},{"c":"r","t":16,"y":43.53},{"c":"r","t":18,"y":44.38},{"c":"r","t":19,"y":46.1},{"c":"r","t":20,"y":46.5},{"c":"r","t":21,"y":44.38},{"c":"r","t":22,"y":43.96},{"c":"r","t":24,"y":42.68},{"c":"r","t":25,"y":42.68},{"c":"r","t":26,"y":41.4},{"c":"r","t":27,"y":38.0},{"c":"r","t":28,"y":37.6},{"c":"r","t":29,"y":37.15},{"c":"r","t":30,"y":37.36},
{"c":"d","t":1,"y":65.87},{"c":"d","t":3,"y":64.6},{"c":"d","t":5,"y":65.45},{"c":"d","t":7,"y":66.5},{"c":"d","t":8,"y":66.3},{"c":"d","t":9,"y":67.8},{"c":"d","t":11,"y":68.2},{"c":"d","t":12,"y":69.7},{"c":"d","t":14,"y":69.06},{"c":"d","t":15,"y":69.06},{"c":"d","t":16,"y":63.32},{"c":"d","t":17,"y":63.1},{"c":"d","t":20,"y":62.04},{"c":"d","t":22,"y":59.9},{"c":"d","t":24,"y":60.55},{"c":"d","t":25,"y":59.7},{"c":"d","t":26,"y":64.6},{"c":"d","t":27,"y":64.8},{"c":"d","t":29,"y":64.4},{"c":"d","t":30,"y":64.6},
{"c":"n","t":1,"y":48.43},{"c":"n","t":2,"y":48.2},{"c":"n","t":4,"y":45.2},{"c":"n","t":6,"y":44.8},{"c":"n","t":7,"y":42.68},{"c":"n","t":10,"y":41.8},{"c":"n","t":12,"y":40.77},{"c":"n","t":15,"y":40.55},{"c":"n","t":17,"y":38.43},{"c":"n","t":19,"y":38.43},{"c":"n","t":20,"y":39.7},{"c":"n","t":21,"y":42.26},{"c":"n","t":22,"y":41.4},{"c":"n","t":24,"y":40.13},{"c":"n","t":26,"y":39.3},{"c":"n","t":27,"y":41.8},{"c":"n","t":28,"y":41.6},{"c":"n","t":30,"y":40.98}
],
"v_O10": [
{"c":"o","t":1,"y":673},{"c":"o","t":3,"y":656},{"c":"o","t":5,"y":614},{"c":"o","t":6,"y":605},{"c":"o","t":7,"y":614},{"c":"o","t":8,"y":627},{"c":"o","t":9,"y":644},{"c":"o","t":11,"y":665},{"c":"o","t":12,"y":678},{"c":"o","t":14,"y":682},{"c":"o","t":15,"y":745},{"c":"o","t":17,"y":733},{"c":"o","t":19,"y":737},{"c":"o","t":21,"y":729},{"c":"o","t":22,"y":741},{"c":"o","t":23,"y":750},{"c":"o","t":25,"y":758},{"c":"o","t":26,"y":741},{"c":"o","t":27,"y":712},{"c":"o","t":28,"y":724},{"c":"o","t":29,"y":703},{"c":"o","t":30,"y":716},
{"c":"b","t":1,"y":835},{"c":"b","t":2,"y":818},{"c":"b","t":3,"y":809},{"c":"b","t":4,"y":813},{"c":"b","t":6,"y":805},{"c":"b","t":7,"y":826},{"c":"b","t":9,"y":813},{"c":"b","t":11,"y":835},{"c":"b","t":12,"y":852},{"c":"b","t":13,"y":818},{"c":"b","t":14,"y":839},{"c":"b","t":16,"y":847},{"c":"b","t":17,"y":868},{"c":"b","t":18,"y":852},{"c":"b","t":19,"y":941},{"c":"b","t":21,"y":919},{"c":"b","t":22,"y":915},{"c":"b","t":23,"y":936},{"c":"b","t":24,"y":911},{"c":"b","t":25,"y":877},{"c":"b","t":26,"y":801},{"c":"b","t":27,"y":826},{"c":"b","t":29,"y":796},
{"c":"u","t":1,"y":614},{"c":"u","t":2,"y":639},{"c":"u","t":3,"y":665},{"c":"u","t":4,"y":682},{"c":"u","t":7,"y":695},{"c":"u","t":8,"y":699},{"c":"u","t":9,"y":686},{"c":"u","t":11,"y":690},{"c":"u","t":13,"y":673},{"c":"u","t":14,"y":656},
{"c":"k","t":1,"y":826},{"c":"k","t":4,"y":830},{"c":"k","t":7,"y":839},{"c":"k","t":10,"y":843},{"c":"k","t":13,"y":851},{"c":"k","t":14,"y":845},{"c":"k","t":15,"y":790},{"c":"k","t":16,"y":784},{"c":"k","t":19,"y":788},{"c":"k","t":22,"y":784},{"c":"k","t":23,"y":790},{"c":"k","t":25,"y":818},{"c":"k","t":28,"y":835},{"c":"k","t":30,"y":839},
{"c":"g","t":1,"y":521},{"c":"g","t":2,"y":500},{"c":"g","t":3,"y":485},{"c":"g","t":5,"y":480},{"c":"g","t":6,"y":460},{"c":"g","t":7,"y":457},{"c":"g","t":8,"y":470},{"c":"g","t":10,"y":504},{"c":"g","t":11,"y":512},{"c":"g","t":13,"y":521},{"c":"g","t":14,"y":518},{"c":"g","t":16,"y":512},{"c":"g","t":18,"y":490},{"c":"g","t":19,"y":474},{"c":"g","t":21,"y":470},{"c":"g","t":22,"y":474},{"c":"g","t":24,"y":491},{"c":"g","t":26,"y":505},{"c":"g","t":28,"y":525},{"c":"g","t":30,"y":538},
{"c":"r","t":1,"y":953},{"c":"r","t":3,"y":936},{"c":"r","t":4,"y":945},{"c":"r","t":6,"y":919},{"c":"r","t":7,"y":890},{"c":"r","t":8,"y":936},{"c":"r","t":10,"y":979},{"c":"r","t":11,"y":936},{"c":"r","t":12,"y":970},{"c":"r","t":14,"y":936},{"c":"r","t":16,"y":953},{"c":"r","t":18,"y":983},{"c":"r","t":19,"y":953},{"c":"r","t":20,"y":966},{"c":"r","t":22,"y":970},{"c":"r","t":23,"y":987},{"c":"r","t":25,"y":992},{"c":"r","t":27,"y":998},{"c":"r","t":28,"y":979},{"c":"r","t":29,"y":960},{"c":"r","t":30,"y":966},
{"c":"d","t":1,"y":444},{"c":"d","t":2,"y":448},{"c":"d","t":3,"y":436},{"c":"d","t":5,"y":444},{"c":"d","t":7,"y":440},{"c":"d","t":9,"y":425},{"c":"d","t":10,"y":415},{"c":"d","t":12,"y":420},{"c":"d","t":13,"y":423},{"c":"d","t":16,"y":444},{"c":"d","t":19,"y":466},{"c":"d","t":21,"y":470},{"c":"d","t":22,"y":474},{"c":"d","t":23,"y":466},{"c":"d","t":25,"y":444},{"c":"d","t":27,"y":440},{"c":"d","t":28,"y":442},{"c":"d","t":30,"y":440},
{"c":"n","t":1,"y":533},{"c":"n","t":3,"y":555},{"c":"n","t":4,"y":563},{"c":"n","t":5,"y":565},{"c":"n","t":6,"y":555},{"c":"n","t":7,"y":545},{"c":"n","t":9,"y":555},{"c":"n","t":10,"y":552},{"c":"n","t":13,"y":559},{"c":"n","t":16,"y":572},{"c":"n","t":19,"y":576},{"c":"n","t":22,"y":576},{"c":"n","t":23,"y":565},{"c":"n","t":25,"y":559},{"c":"n","t":27,"y":559},{"c":"n","t":28,"y":550},{"c":"n","t":29,"y":559},{"c":"n","t":30,"y":550}
],
"v_L1": [
{"c":"o","t":1,"y":648},{"c":"o","t":3,"y":665},{"c":"o","t":4,"y":669},{"c":"o","t":6,"y":670},{"c":"o","t":7,"y":682},{"c":"o","t":8,"y":675},{"c":"o","t":10,"y":669},{"c":"o","t":11,"y":655},{"c":"o","t":13,"y":622},{"c":"o","t":16,"y":614},{"c":"o","t":17,"y":610},{"c":"o","t":19,"y":614},{"c":"o","t":21,"y":630},{"c":"o","t":22,"y":673},{"c":"o","t":23,"y":700},{"c":"o","t":25,"y":741},{"c":"o","t":28,"y":775},{"c":"o","t":30,"y":805},
{"c":"b","t":1,"y":750},{"c":"b","t":2,"y":710},{"c":"b","t":4,"y":686},{"c":"b","t":5,"y":690},{"c":"b","t":7,"y":665},{"c":"b","t":8,"y":680},{"c":"b","t":10,"y":648},{"c":"b","t":11,"y":672},{"c":"b","t":12,"y":660},{"c":"b","t":13,"y":635},{"c":"b","t":16,"y":648},{"c":"b","t":18,"y":655},{"c":"b","t":19,"y":639},{"c":"b","t":21,"y":620},{"c":"b","t":22,"y":605},{"c":"b","t":23,"y":610},{"c":"b","t":24,"y":627},{"c":"b","t":25,"y":620},{"c":"b","t":26,"y":546},{"c":"b","t":27,"y":500},{"c":"b","t":28,"y":495},{"c":"b","t":30,"y":495},
{"c":"u","t":1,"y":512},{"c":"u","t":2,"y":495},{"c":"u","t":4,"y":495},{"c":"u","t":6,"y":500},{"c":"u","t":7,"y":499},{"c":"u","t":8,"y":508},{"c":"u","t":10,"y":491},{"c":"u","t":13,"y":482},{"c":"u","t":16,"y":466},{"c":"u","t":18,"y":450},{"c":"u","t":19,"y":440},{"c":"u","t":20,"y":465},{"c":"u","t":22,"y":478},{"c":"u","t":25,"y":504},{"c":"u","t":28,"y":504},{"c":"u","t":30,"y":495},
{"c":"k","t":1,"y":750},{"c":"k","t":2,"y":720},{"c":"k","t":3,"y":700},{"c":"k","t":4,"y":699},{"c":"k","t":6,"y":690},{"c":"k","t":7,"y":665},{"c":"k","t":8,"y":665},{"c":"k","t":9,"y":735},{"c":"k","t":10,"y":741},{"c":"k","t":11,"y":765},{"c":"k","t":12,"y":767},{"c":"k","t":13,"y":760},{"c":"k","t":14,"y":760},{"c":"k","t":16,"y":741},{"c":"k","t":17,"y":720},{"c":"k","t":19,"y":707},{"c":"k","t":22,"y":699},{"c":"k","t":24,"y":724},{"c":"k","t":25,"y":735},{"c":"k","t":26,"y":703},
{"c":"g","t":1,"y":504},{"c":"g","t":2,"y":475},{"c":"g","t":3,"y":470},{"c":"g","t":4,"y":466},{"c":"g","t":6,"y":470},{"c":"g","t":7,"y":478},{"c":"g","t":8,"y":482},{"c":"g","t":10,"y":495},{"c":"g","t":13,"y":521},{"c":"g","t":14,"y":525},{"c":"g","t":16,"y":521},{"c":"g","t":17,"y":512},{"c":"g","t":19,"y":550},{"c":"g","t":21,"y":530},{"c":"g","t":22,"y":538},{"c":"g","t":25,"y":542},{"c":"g","t":27,"y":545},{"c":"g","t":28,"y":504},{"c":"g","t":30,"y":491},
{"c":"r","t":1,"y":936},{"c":"r","t":2,"y":894},{"c":"r","t":3,"y":962},{"c":"r","t":4,"y":953},{"c":"r","t":6,"y":962},{"c":"r","t":7,"y":953},{"c":"r","t":8,"y":970},{"c":"r","t":9,"y":936},{"c":"r","t":11,"y":987},{"c":"r","t":12,"y":996},{"c":"r","t":13,"y":953},{"c":"r","t":14,"y":915},{"c":"r","t":16,"y":902},{"c":"r","t":17,"y":868},{"c":"r","t":19,"y":902},{"c":"r","t":20,"y":877},{"c":"r","t":21,"y":919},{"c":"r","t":23,"y":941},{"c":"r","t":24,"y":962},{"c":"r","t":25,"y":966},{"c":"r","t":26,"y":970},{"c":"r","t":27,"y":953},{"c":"r","t":29,"y":919},{"c":"r","t":30,"y":906},
{"c":"d","t":1,"y":432},{"c":"d","t":2,"y":425},{"c":"d","t":4,"y":415},{"c":"d","t":5,"y":405},{"c":"d","t":7,"y":393},{"c":"d","t":8,"y":408},{"c":"d","t":10,"y":427},{"c":"d","t":12,"y":445},{"c":"d","t":13,"y":453},{"c":"d","t":16,"y":478},{"c":"d","t":17,"y":492},{"c":"d","t":19,"y":499},{"c":"d","t":21,"y":495},{"c":"d","t":22,"y":491},{"c":"d","t":25,"y":487},{"c":"d","t":27,"y":485},{"c":"d","t":28,"y":470},{"c":"d","t":29,"y":475},{"c":"d","t":30,"y":457},
{"c":"n","t":1,"y":427},{"c":"n","t":2,"y":410},{"c":"n","t":3,"y":380},{"c":"n","t":4,"y":368},{"c":"n","t":6,"y":350},{"c":"n","t":7,"y":347},{"c":"n","t":9,"y":360},{"c":"n","t":10,"y":376},{"c":"n","t":13,"y":372},{"c":"n","t":16,"y":372},{"c":"n","t":19,"y":398},{"c":"n","t":20,"y":405},{"c":"n","t":21,"y":398},{"c":"n","t":22,"y":406},{"c":"n","t":24,"y":410},{"c":"n","t":25,"y":406},{"c":"n","t":27,"y":410},{"c":"n","t":28,"y":412},{"c":"n","t":29,"y":403},{"c":"n","t":30,"y":389}
],
"v_L2": [
{"c":"o","t":1,"y":686},{"c":"o","t":3,"y":680},{"c":"o","t":4,"y":682},{"c":"o","t":5,"y":675},{"c":"o","t":7,"y":669},{"c":"o","t":9,"y":685},{"c":"o","t":10,"y":690},{"c":"o","t":13,"y":712},{"c":"o","t":14,"y":740},{"c":"o","t":16,"y":796},{"c":"o","t":18,"y":815},{"c":"o","t":19,"y":826},{"c":"o","t":21,"y":835},{"c":"o","t":22,"y":830},{"c":"o","t":23,"y":820},{"c":"o","t":24,"y":780},{"c":"o","t":25,"y":767},{"c":"o","t":26,"y":775},{"c":"o","t":27,"y":795},{"c":"o","t":28,"y":784},{"c":"o","t":30,"y":728},
{"c":"b","t":1,"y":792},{"c":"b","t":3,"y":695},{"c":"b","t":5,"y":690},{"c":"b","t":7,"y":686},{"c":"b","t":8,"y":700},{"c":"b","t":10,"y":648},{"c":"b","t":11,"y":655},{"c":"b","t":12,"y":650},{"c":"b","t":13,"y":682},{"c":"b","t":15,"y":665},{"c":"b","t":16,"y":680},{"c":"b","t":17,"y":690},{"c":"b","t":18,"y":724},{"c":"b","t":19,"y":700},{"c":"b","t":20,"y":680},{"c":"b","t":21,"y":665},{"c":"b","t":22,"y":648},{"c":"b","t":24,"y":620},{"c":"b","t":25,"y":580},{"c":"b","t":26,"y":570},{"c":"b","t":28,"y":521},{"c":"b","t":30,"y":436},
{"c":"u","t":1,"y":478},{"c":"u","t":2,"y":470},{"c":"u","t":4,"y":453},{"c":"u","t":7,"y":457},{"c":"u","t":10,"y":449},{"c":"u","t":12,"y":420},{"c":"u","t":13,"y":402},{"c":"u","t":16,"y":419},{"c":"u","t":19,"y":427},{"c":"u","t":21,"y":440},{"c":"u","t":22,"y":436},{"c":"u","t":24,"y":452},{"c":"u","t":25,"y":461},{"c":"u","t":26,"y":455},{"c":"u","t":28,"y":436},{"c":"u","t":30,"y":427},
{"c":"k","t":1,"y":741},{"c":"k","t":2,"y":784},{"c":"k","t":4,"y":784},{"c":"k","t":5,"y":760},{"c":"k","t":7,"y":750},{"c":"k","t":9,"y":700},{"c":"k","t":10,"y":656},{"c":"k","t":12,"y":640},{"c":"k","t":13,"y":597},{"c":"k","t":15,"y":550},{"c":"k","t":16,"y":538},{"c":"k","t":18,"y":545},{"c":"k","t":19,"y":570},{"c":"k","t":20,"y":560},{"c":"k","t":22,"y":567},{"c":"k","t":24,"y":590},{"c":"k","t":25,"y":614},{"c":"k","t":27,"y":612},{"c":"k","t":28,"y":590},{"c":"k","t":30,"y":563},
{"c":"g","t":1,"y":487},{"c":"g","t":2,"y":510},{"c":"g","t":3,"y":525},{"c":"g","t":4,"y":529},{"c":"g","t":6,"y":508},{"c":"g","t":7,"y":508},{"c":"g","t":9,"y":516},{"c":"g","t":11,"y":520},{"c":"g","t":12,"y":529},{"c":"g","t":14,"y":500},{"c":"g","t":16,"y":521},{"c":"g","t":18,"y":521},{"c":"g","t":19,"y":521},{"c":"g","t":20,"y":518},{"c":"g","t":22,"y":542},{"c":"g","t":25,"y":563},{"c":"g","t":27,"y":575},{"c":"g","t":28,"y":584},{"c":"g","t":30,"y":563},
{"c":"r","t":1,"y":852},{"c":"r","t":2,"y":830},{"c":"r","t":3,"y":822},{"c":"r","t":5,"y":870},{"c":"r","t":7,"y":894},{"c":"r","t":8,"y":880},{"c":"r","t":9,"y":868},{"c":"r","t":11,"y":885},{"c":"r","t":13,"y":911},{"c":"r","t":14,"y":915},{"c":"r","t":16,"y":966},{"c":"r","t":17,"y":945},{"c":"r","t":18,"y":940},{"c":"r","t":19,"y":962},{"c":"r","t":20,"y":955},{"c":"r","t":22,"y":928},{"c":"r","t":24,"y":895},{"c":"r","t":25,"y":868},{"c":"r","t":26,"y":880},{"c":"r","t":28,"y":881},{"c":"r","t":29,"y":885},{"c":"r","t":30,"y":890},
{"c":"d","t":1,"y":330},{"c":"d","t":3,"y":360},{"c":"d","t":4,"y":359},{"c":"d","t":5,"y":345},{"c":"d","t":7,"y":342},{"c":"d","t":10,"y":326},{"c":"d","t":11,"y":325},{"c":"d","t":12,"y":345},{"c":"d","t":13,"y":351},{"c":"d","t":15,"y":370},{"c":"d","t":16,"y":376},{"c":"d","t":19,"y":393},{"c":"d","t":20,"y":398},{"c":"d","t":22,"y":402},{"c":"d","t":24,"y":385},{"c":"d","t":25,"y":381},{"c":"d","t":26,"y":392},{"c":"d","t":27,"y":405},{"c":"d","t":28,"y":423},{"c":"d","t":29,"y":521},{"c":"d","t":30,"y":533},
{"c":"n","t":1,"y":415},{"c":"n","t":2,"y":470},{"c":"n","t":3,"y":460},{"c":"n","t":4,"y":457},{"c":"n","t":6,"y":444},{"c":"n","t":7,"y":444},{"c":"n","t":9,"y":376},{"c":"n","t":10,"y":444},{"c":"n","t":11,"y":444},{"c":"n","t":12,"y":376},{"c":"n","t":13,"y":419},{"c":"n","t":14,"y":466},{"c":"n","t":16,"y":504},{"c":"n","t":17,"y":580},{"c":"n","t":18,"y":631},{"c":"n","t":19,"y":572},{"c":"n","t":20,"y":631},{"c":"n","t":21,"y":620},{"c":"n","t":22,"y":606},{"c":"n","t":23,"y":538},{"c":"n","t":25,"y":576},{"c":"n","t":27,"y":525},{"c":"n","t":29,"y":563},{"c":"n","t":30,"y":550}
]
},
"columns": 3,
"spacing": {"row": 16.5, "column": 9.6},
"bounds": "flush",
"concat": [
 {"data": {"name": "z_O10"}, "width": 154, "height": 314,
  "layer": [
   {"mark": {"type": "line"}, "encoding": {
     "x": {"field": "t", "type": "quantitative", "scale": {"domain": [1, 30], "nice": false, "zero": false}, "axis": {"values": [10, 20, 30], "labels": false, "title": null}},
     "y": {"field": "y", "type": "quantitative", "scale": {"domain": [-15, 25], "nice": false, "zero": false}, "axis": {"values": [-15, 0, 25], "labelExpr": "replace(datum.label, '\u2212', '-')", "labelPadding": 11.5, "labelBaseline": {"condition": {"test": "datum.value == 25", "value": "top"}, "value": "middle"}, "title": "final z", "titleAngle": 270, "titleAlign": "left", "titleBaseline": "alphabetic", "titleX": -69, "titleY": 264.7}},
     "color": {"field": "c", "type": "nominal", "scale": {"domain": ["o","b","u","k","g","r","d","n"], "range": ["#f0b46e","#64b4ff","#b078fa","#f06eb4","#1ff584","#c0141c","#0e6e18","#0c213f"]}, "legend": null}}},
   {"mark": {"type": "point", "opacity": 0}, "encoding": {
     "x": {"field": "t", "type": "quantitative", "axis": {"orient": "bottom", "domain": false, "ticks": false, "labels": false, "title": null}},
     "y": {"field": "y", "type": "quantitative", "axis": {"orient": "left", "domain": false, "ticks": false, "labels": false, "title": "digit2", "titleFontSize": 15, "titleAngle": 270, "titleAlign": "left", "titleBaseline": "alphabetic", "titleX": -58, "titleY": 191.7}}}},
   {"mark": {"type": "point", "opacity": 0}, "encoding": {
     "x": {"field": "t", "type": "quantitative", "axis": {"orient": "bottom", "domain": false, "ticks": false, "labels": false, "title": null}},
     "y": {"field": "y", "type": "quantitative", "axis": {"orient": "left", "domain": false, "ticks": false, "labels": false, "title": "(mm)", "titleAngle": 270, "titleAlign": "left", "titleBaseline": "alphabetic", "titleX": -69, "titleY": 145.7}}}}
  ],
  "resolve": {"axis": {"x": "independent", "y": "independent"}}
 },
 {"data": {"name": "z_L1"}, "width": 154, "height": 314, "view": {"fill": "#e8f8fc"},
  "mark": {"type": "line"}, "encoding": {
   "x": {"field": "t", "type": "quantitative", "scale": {"domain": [1, 30], "nice": false, "zero": false}, "axis": {"values": [10, 20, 30], "labels": false, "title": null}},
   "y": {"field": "y", "type": "quantitative", "scale": {"domain": [-15, 25], "nice": false, "zero": false}, "axis": {"values": [-15, 0, 25], "labels": false, "title": null}},
   "color": {"field": "c", "type": "nominal", "scale": {"domain": ["o","b","u","k","g","r","d","n"], "range": ["#f0b46e","#64b4ff","#b078fa","#f06eb4","#1ff584","#c0141c","#0e6e18","#0c213f"]}, "legend": null}}},
 {"data": {"name": "z_L2"}, "width": 154, "height": 314, "view": {"fill": "#e8f8fc"},
  "mark": {"type": "line"}, "encoding": {
   "x": {"field": "t", "type": "quantitative", "scale": {"domain": [1, 30], "nice": false, "zero": false}, "axis": {"values": [10, 20, 30], "labels": false, "title": null}},
   "y": {"field": "y", "type": "quantitative", "scale": {"domain": [-15, 25], "nice": false, "zero": false}, "axis": {"values": [-15, 0, 25], "labels": false, "title": null}},
   "color": {"field": "c", "type": "nominal", "scale": {"domain": ["o","b","u","k","g","r","d","n"], "range": ["#f0b46e","#64b4ff","#b078fa","#f06eb4","#1ff584","#c0141c","#0e6e18","#0c213f"]}, "legend": null}}},
 {"data": {"name": "ap_O10"}, "width": 154, "height": 314,
  "mark": {"type": "line"}, "encoding": {
   "x": {"field": "t", "type": "quantitative", "scale": {"domain": [1, 30], "nice": false, "zero": false}, "axis": {"values": [10, 20, 30], "labels": false, "title": null}},
   "y": {"field": "y", "type": "quantitative", "scale": {"domain": [8, 20], "nice": false, "zero": false}, "axis": {"values": [8, 14, 20], "labelPadding": 11.5, "labelBaseline": {"condition": {"test": "datum.value == 20", "value": "top"}, "value": "middle"}, "title": ["aperture at", "reach end (mm)"], "titleAngle": 270, "titleAlign": "center", "titleBaseline": "alphabetic", "titleX": -91.5, "titleY": 163, "titleLineHeight": 31.5}},
   "color": {"field": "c", "type": "nominal", "scale": {"domain": ["o","b","u","k","g","r","d","n"], "range": ["#f0b46e","#64b4ff","#b078fa","#f06eb4","#1ff584","#c0141c","#0e6e18","#0c213f"]}, "legend": null}}},
 {"data": {"name": "ap_L1"}, "width": 154, "height": 314, "view": {"fill": "#e8f8fc"},
  "mark": {"type": "line"}, "encoding": {
   "x": {"field": "t", "type": "quantitative", "scale": {"domain": [1, 30], "nice": false, "zero": false}, "axis": {"values": [10, 20, 30], "labels": false, "title": null}},
   "y": {"field": "y", "type": "quantitative", "scale": {"domain": [8, 20], "nice": false, "zero": false}, "axis": {"values": [8, 14, 20], "labels": false, "title": null}},
   "color": {"field": "c", "type": "nominal", "scale": {"domain": ["o","b","u","k","g","r","d","n"], "range": ["#f0b46e","#64b4ff","#b078fa","#f06eb4","#1ff584","#c0141c","#0e6e18","#0c213f"]}, "legend": null}}},
 {"data": {"name": "ap_L2"}, "width": 154, "height": 314, "view": {"fill": "#e8f8fc"},
  "mark": {"type": "line"}, "encoding": {
   "x": {"field": "t", "type": "quantitative", "scale": {"domain": [1, 30], "nice": false, "zero": false}, "axis": {"values": [10, 20, 30], "labels": false, "title": null}},
   "y": {"field": "y", "type": "quantitative", "scale": {"domain": [8, 20], "nice": false, "zero": false}, "axis": {"values": [8, 14, 20], "labels": false, "title": null}},
   "color": {"field": "c", "type": "nominal", "scale": {"domain": ["o","b","u","k","g","r","d","n"], "range": ["#f0b46e","#64b4ff","#b078fa","#f06eb4","#1ff584","#c0141c","#0e6e18","#0c213f"]}, "legend": null}}},
 {"data": {"name": "th_O10"}, "width": 154, "height": 314,
  "layer": [
   {"mark": {"type": "line"}, "encoding": {
     "x": {"field": "t", "type": "quantitative", "scale": {"domain": [1, 30], "nice": false, "zero": false}, "axis": {"values": [10, 20, 30], "labels": false, "title": null}},
     "y": {"field": "y", "type": "quantitative", "scale": {"domain": [30, 70], "nice": false, "zero": false}, "axis": {"values": [30, 50, 70], "labelPadding": 11.5, "labelBaseline": {"condition": {"test": "datum.value == 70", "value": "top"}, "value": "middle"}, "title": "reach end (deg)", "titleAngle": 270, "titleAlign": "center", "titleBaseline": "alphabetic", "titleX": -60, "titleY": 155}},
     "color": {"field": "c", "type": "nominal", "scale": {"domain": ["o","b","u","k","g","r","d","n"], "range": ["#f0b46e","#64b4ff","#b078fa","#f06eb4","#1ff584","#c0141c","#0e6e18","#0c213f"]}, "legend": null}}},
   {"mark": {"type": "point", "opacity": 0}, "encoding": {
     "x": {"field": "t", "type": "quantitative", "axis": {"orient": "bottom", "domain": false, "ticks": false, "labels": false, "title": null}},
     "y": {"field": "y", "type": "quantitative", "axis": {"orient": "left", "domain": false, "ticks": false, "labels": false, "title": "θ", "titleFontStyle": "italic", "titleAngle": 270, "titleAlign": "left", "titleBaseline": "alphabetic", "titleX": -91.5, "titleY": 184}}}},
   {"mark": {"type": "point", "opacity": 0}, "encoding": {
     "x": {"field": "t", "type": "quantitative", "axis": {"orient": "bottom", "domain": false, "ticks": false, "labels": false, "title": null}},
     "y": {"field": "y", "type": "quantitative", "axis": {"orient": "left", "domain": false, "ticks": false, "labels": false, "title": "at", "titleAngle": 270, "titleAlign": "left", "titleBaseline": "alphabetic", "titleX": -91.5, "titleY": 155}}}}
  ],
  "resolve": {"axis": {"x": "independent", "y": "independent"}}
 },
 {"data": {"name": "th_L1"}, "width": 154, "height": 314, "view": {"fill": "#e8f8fc"},
  "mark": {"type": "line"}, "encoding": {
   "x": {"field": "t", "type": "quantitative", "scale": {"domain": [1, 30], "nice": false, "zero": false}, "axis": {"values": [10, 20, 30], "labels": false, "title": null}},
   "y": {"field": "y", "type": "quantitative", "scale": {"domain": [30, 70], "nice": false, "zero": false}, "axis": {"values": [30, 50, 70], "labels": false, "title": null}},
   "color": {"field": "c", "type": "nominal", "scale": {"domain": ["o","b","u","k","g","r","d","n"], "range": ["#f0b46e","#64b4ff","#b078fa","#f06eb4","#1ff584","#c0141c","#0e6e18","#0c213f"]}, "legend": null}}},
 {"data": {"name": "th_L2"}, "width": 154, "height": 314, "view": {"fill": "#e8f8fc"},
  "mark": {"type": "line"}, "encoding": {
   "x": {"field": "t", "type": "quantitative", "scale": {"domain": [1, 30], "nice": false, "zero": false}, "axis": {"values": [10, 20, 30], "labels": false, "title": null}},
   "y": {"field": "y", "type": "quantitative", "scale": {"domain": [30, 70], "nice": false, "zero": false}, "axis": {"values": [30, 50, 70], "labels": false, "title": null}},
   "color": {"field": "c", "type": "nominal", "scale": {"domain": ["o","b","u","k","g","r","d","n"], "range": ["#f0b46e","#64b4ff","#b078fa","#f06eb4","#1ff584","#c0141c","#0e6e18","#0c213f"]}, "legend": null}}},
 {"data": {"name": "v_O10"}, "width": 154, "height": 314,
  "layer": [
   {"mark": {"type": "line"}, "encoding": {
     "x": {"field": "t", "type": "quantitative", "scale": {"domain": [1, 30], "nice": false, "zero": false}, "axis": {"values": [15, 30], "labelPadding": 17, "labelOffset": {"condition": {"test": "datum.value == 30", "value": -10}, "value": 0}, "title": "O10", "titleFontWeight": "bold", "titleColor": "#141414", "titleAlign": "center", "titleBaseline": "alphabetic", "titleX": 73, "titleY": 63.5}},
     "y": {"field": "y", "type": "quantitative", "scale": {"domain": [200, 1000], "nice": false, "zero": false}, "axis": {"values": [200, 600, 1000], "format": "d", "labelPadding": 11.5, "labelOffset": {"condition": {"test": "datum.value == 200", "value": -3}, "value": 0}, "labelBaseline": {"condition": {"test": "datum.value == 1000", "value": "top"}, "value": "middle"}, "title": ["max reach", "velocity (mm/s)"], "titleAngle": 270, "titleAlign": "center", "titleBaseline": "alphabetic", "titleX": -96, "titleY": 157, "titleLineHeight": 31.5}},
     "color": {"field": "c", "type": "nominal", "scale": {"domain": ["o","b","u","k","g","r","d","n"], "range": ["#f0b46e","#64b4ff","#b078fa","#f06eb4","#1ff584","#c0141c","#0e6e18","#0c213f"]}, "legend": null}}},
   {"mark": {"type": "point", "opacity": 0}, "encoding": {
     "x": {"field": "t", "type": "quantitative", "axis": {"orient": "bottom", "domain": false, "ticks": false, "labels": false, "title": "trial #:", "titleColor": "#333333", "titleAlign": "right", "titleBaseline": "alphabetic", "titleX": 16, "titleY": 34.5}},
     "y": {"field": "y", "type": "quantitative", "axis": {"orient": "left", "domain": false, "ticks": false, "labels": false, "title": null}}}},
   {"mark": {"type": "point", "opacity": 0}, "encoding": {
     "x": {"field": "t", "type": "quantitative", "axis": {"orient": "bottom", "domain": false, "ticks": false, "labels": false, "title": "session:", "titleFontWeight": "bold", "titleColor": "#141414", "titleAlign": "right", "titleBaseline": "alphabetic", "titleX": 16, "titleY": 63.5}},
     "y": {"field": "y", "type": "quantitative", "axis": {"orient": "left", "domain": false, "ticks": false, "labels": false, "title": null}}}}
  ],
  "resolve": {"axis": {"x": "independent", "y": "independent"}}
 },
 {"data": {"name": "v_L1"}, "width": 154, "height": 314, "view": {"fill": "#e8f8fc"},
  "mark": {"type": "line"}, "encoding": {
   "x": {"field": "t", "type": "quantitative", "scale": {"domain": [1, 30], "nice": false, "zero": false}, "axis": {"values": [15, 30], "labelPadding": 17, "labelColor": "#1f4ea3", "labelOffset": {"condition": {"test": "datum.value == 30", "value": -9}, "value": 0}, "title": "L1", "titleFontWeight": "bold", "titleColor": "#1f4ea3", "titleAlign": "center", "titleBaseline": "alphabetic", "titleX": 78, "titleY": 63.5}},
   "y": {"field": "y", "type": "quantitative", "scale": {"domain": [200, 1000], "nice": false, "zero": false}, "axis": {"values": [200, 600, 1000], "labels": false, "title": null}},
   "color": {"field": "c", "type": "nominal", "scale": {"domain": ["o","b","u","k","g","r","d","n"], "range": ["#f0b46e","#64b4ff","#b078fa","#f06eb4","#1ff584","#c0141c","#0e6e18","#0c213f"]}, "legend": null}}},
 {"data": {"name": "v_L2"}, "width": 154, "height": 314, "view": {"fill": "#e8f8fc"},
  "mark": {"type": "line"}, "encoding": {
   "x": {"field": "t", "type": "quantitative", "scale": {"domain": [1, 30], "nice": false, "zero": false}, "axis": {"values": [15, 30], "labelPadding": 17, "labelColor": "#1f4ea3", "labelOffset": {"condition": {"test": "datum.value == 30", "value": -11}, "value": 0}, "title": "L2", "titleFontWeight": "bold", "titleColor": "#1f4ea3", "titleAlign": "center", "titleBaseline": "alphabetic", "titleX": 78, "titleY": 63.5}},
   "y": {"field": "y", "type": "quantitative", "scale": {"domain": [200, 1000], "nice": false, "zero": false}, "axis": {"values": [200, 600, 1000], "labels": false, "title": null}},
   "color": {"field": "c", "type": "nominal", "scale": {"domain": ["o","b","u","k","g","r","d","n"], "range": ["#f0b46e","#64b4ff","#b078fa","#f06eb4","#1ff584","#c0141c","#0e6e18","#0c213f"]}, "legend": null}}}
]
}
